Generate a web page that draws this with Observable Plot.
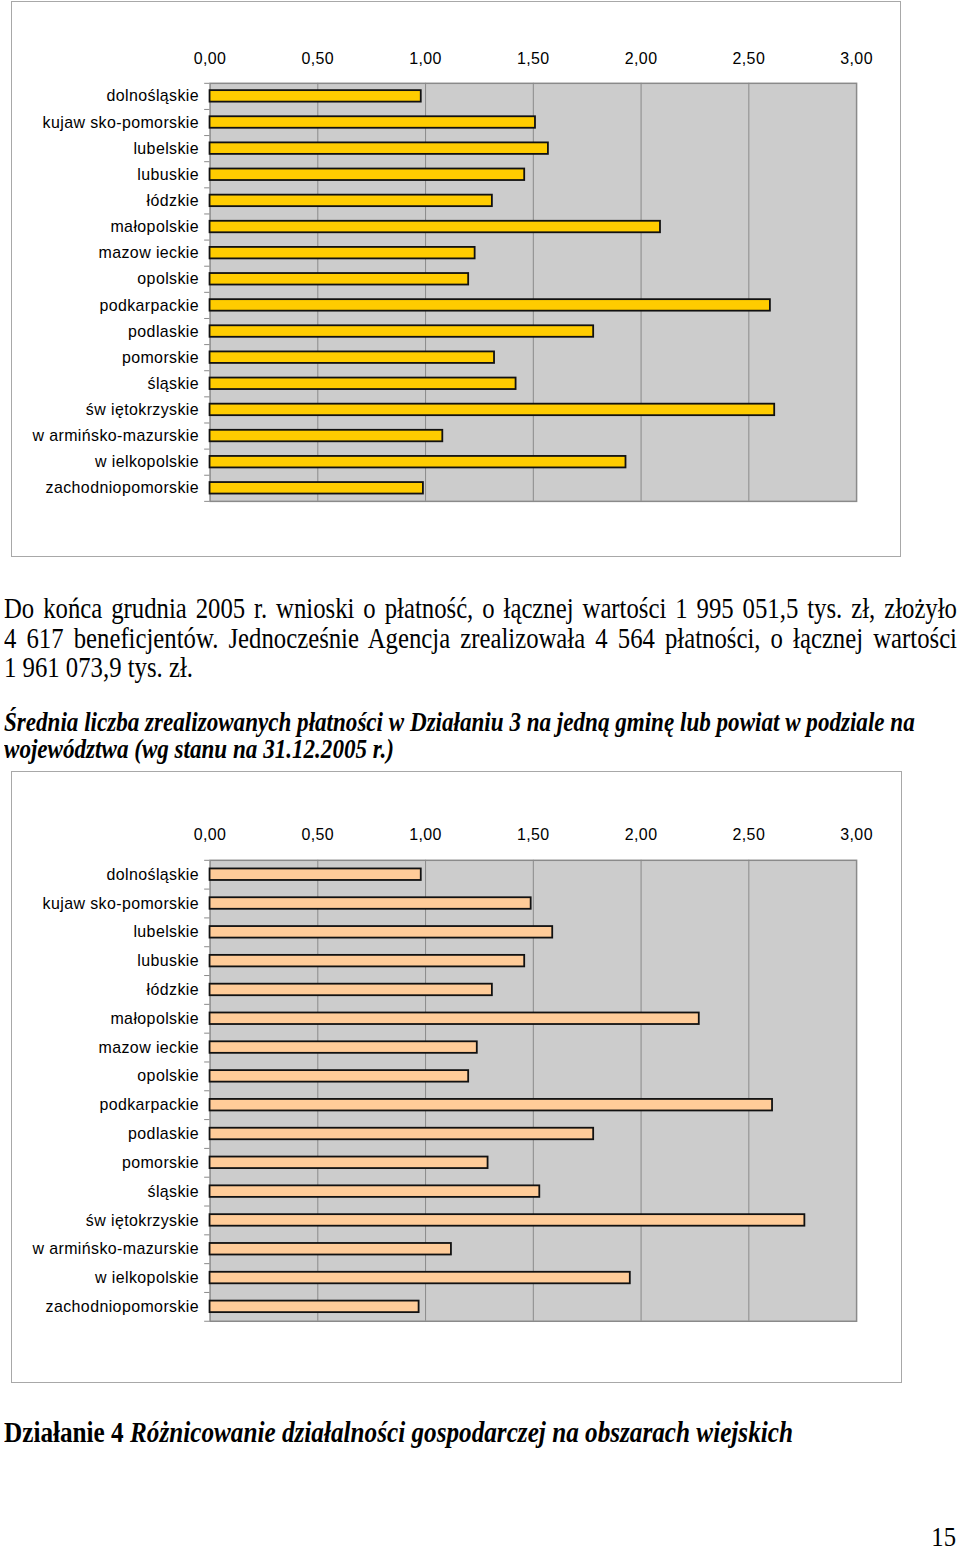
<!DOCTYPE html>
<html>
<head>
<meta charset="utf-8">
<script src="https://cdn.jsdelivr.net/npm/d3@7"></script>
<script src="https://cdn.jsdelivr.net/npm/@observablehq/plot@0.6"></script>
<style>
  html, body { margin: 0; padding: 0; background: #fff; }
  #page { position: relative; width: 960px; height: 1553px; overflow: hidden; background: #fff; }
  .chartbox { position: absolute; box-sizing: border-box; border: 1px solid #a8a8a8; background: #fff; }
  .chartbox svg { position: absolute; left: -1px; top: -1px; }
  .line { position: absolute; left: 4px; white-space: nowrap; transform-origin: 0 0; color: #000;
          font-family: "Liberation Serif", "Times New Roman", serif; }
  .just { white-space: normal; text-align: justify; text-align-last: justify; }
</style>
</head>
<body>
<div id="page">
  <div id="chart1" class="chartbox" style="left:11px;top:1px;width:890px;height:556px;"></div>
  <div id="chart2" class="chartbox" style="left:11px;top:771px;width:891px;height:612px;"></div>
</div>
<script>
// ---------- data ----------
const categories = [
  "dolnośląskie", "kujaw sko-pomorskie", "lubelskie", "lubuskie", "łódzkie",
  "małopolskie", "mazow ieckie", "opolskie", "podkarpackie", "podlaskie",
  "pomorskie", "śląskie", "św iętokrzyskie", "w armińsko-mazurskie",
  "w ielkopolskie", "zachodniopomorskie"
];
const values1 = [0.98, 1.51, 1.57, 1.46, 1.31, 2.09, 1.23, 1.20, 2.60, 1.78, 1.32, 1.42, 2.62, 1.08, 1.93, 0.99];
const values2 = [0.98, 1.49, 1.59, 1.46, 1.31, 2.27, 1.24, 1.20, 2.61, 1.78, 1.29, 1.53, 2.76, 1.12, 1.95, 0.97];
const tickValues = [0, 0.5, 1, 1.5, 2, 2.5, 3];
const tickLabels = ["0,00", "0,50", "1,00", "1,50", "2,00", "2,50", "3,00"];

const paragraphLines = [
  "Do końca grudnia 2005 r. wnioski o płatność, o łącznej wartości 1 995 051,5 tys. zł, złożyło",
  "4 617 beneficjentów. Jednocześnie Agencja zrealizowała 4 564 płatności, o łącznej wartości",
  "1 961 073,9 tys. zł."
];
const captionLines = [
  "Średnia liczba zrealizowanych płatności w Działaniu 3 na jedną gminę lub powiat w podziale na",
  "województwa (wg stanu na 31.12.2005 r.)"
];
const headingBold = "Działanie 4 ";
const headingItalic = "Różnicowanie działalności gospodarczej na obszarach wiejskich";
const pageNumber = "15";

// ---------- charts ----------
function barChart(values, fill, opts) {
  const data = categories.map((c, i) => ({category: c, value: values[i]}));
  const n = categories.length;
  const innerH = opts.height - opts.marginTop - opts.marginBottom;
  const step = innerH / n;
  return Plot.plot({
    width: opts.width,
    height: opts.height,
    marginLeft: 199,
    marginRight: opts.marginRight,
    marginTop: opts.marginTop,
    marginBottom: opts.marginBottom,
    style: {fontFamily: "'Liberation Sans', Arial, sans-serif", fontSize: "16px", color: "#000", background: "transparent", letterSpacing: "0.4px", overflow: "visible"},
    x: {domain: [0, 3], axis: "top", ticks: tickValues, tickFormat: (d) => tickLabels[tickValues.indexOf(d)], tickSize: 0, tickPadding: opts.tickPad, label: null},
    y: {domain: categories, paddingInner: opts.pad, paddingOuter: opts.pad / 2, round: false, label: null, axis: null},
    marks: [
      Plot.frame({fill: "#cccccc", stroke: null}),
      Plot.ruleX(tickValues.slice(1, -1), {stroke: "#8a8a8a", strokeWidth: 1}),
      Plot.frame({stroke: "#8a8a8a", strokeWidth: 1.5}),
      Plot.ruleY(categories, {y: d => d, x1: -0.025, x2: 0, dy: -step / 2, stroke: "#8a8a8a"}),
      Plot.ruleY(categories.slice(-1), {y: d => d, x1: -0.025, x2: 0, dy: step / 2, stroke: "#8a8a8a"}),
      Plot.barX(data, {x: "value", y: "category", fill: fill, stroke: "#111", strokeWidth: 1.8}),
      Plot.axisY({tickSize: 0, tickPadding: 11, label: null, fontSize: 16})
    ]
  });
}

document.getElementById("chart1").appendChild(barChart(values1, "#ffcc00",
  {width: 890, height: 556, marginRight: 43, marginTop: 82, marginBottom: 55, pad: 0.56, tickPad: 19}));
document.getElementById("chart2").appendChild(barChart(values2, "#ffcc99",
  {width: 891, height: 612, marginRight: 44, marginTop: 89, marginBottom: 61, pad: 0.6, tickPad: 20}));

// ---------- text ----------
const page = document.getElementById("page");
function addLine(html, baseline, size, weight, style, sx, justifyWidth, lh) {
  const lineH = lh || size;
  const d = document.createElement("div");
  d.className = "line" + (justifyWidth ? " just" : "");
  d.innerHTML = html;
  d.style.fontSize = size + "px";
  d.style.lineHeight = lineH + "px";
  d.style.height = lineH + "px";
  d.style.fontWeight = weight;
  d.style.fontStyle = style;
  const baseOff = (lineH - 1.107 * size) / 2 + 0.891 * size;
  d.style.top = (baseline - baseOff) + "px";
  d.style.transform = `scaleX(${sx})`;
  if (justifyWidth) d.style.width = (justifyWidth / sx) + "px";
  page.appendChild(d);
  return d;
}
addLine(paragraphLines[0], 618, 29, "normal", "normal", 0.853, 953);
addLine(paragraphLines[1], 648, 29, "normal", "normal", 0.853, 953);
addLine(paragraphLines[2], 677, 29, "normal", "normal", 0.853, 0);
addLine(captionLines[0], 732, 27, "bold", "italic", 0.855, 0);
addLine(captionLines[1], 759, 27, "bold", "italic", 0.855, 0);
addLine(`<b>${headingBold}</b><i>${headingItalic}</i>`, 1442, 30, "bold", "normal", 0.84, 0);
const pn = addLine(pageNumber, 1546, 28, "normal", "normal", 0.88, 0, 20);
pn.style.left = "auto";
pn.style.right = "4px";
pn.style.transformOrigin = "100% 0";
</script>
</body>
</html>
